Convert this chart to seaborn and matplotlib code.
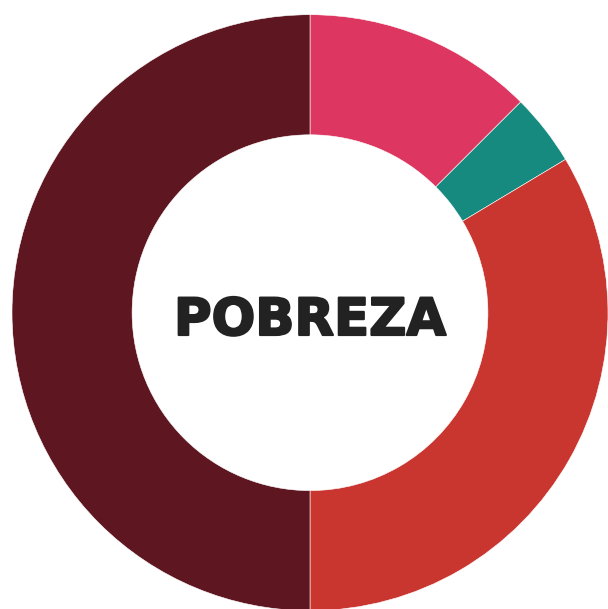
import matplotlib
matplotlib.use("Agg")
import matplotlib.pyplot as plt
import matplotlib.patheffects as pe
import seaborn as sns

labels = ["Pobreza extrema", "Vulnerable", "Pobreza moderada", "No pobre"]
values = [12.5, 3.9, 33.6, 50.0]
colors = ["#DC3661", "#178A80", "#C9352F", "#5E1620"]
center_text = "POBREZA"

sns.set_style("white")
plt.rcParams["font.family"] = ["DejaVu Sans"]

fig = plt.figure(figsize=(6.08, 6.09), dpi=100)
ax = fig.add_axes([12 / 608, -1.7 / 609, 596 / 608, 596 / 609])
ax.pie(values, colors=sns.color_palette(colors), startangle=90, counterclock=False,
       radius=1, wedgeprops=dict(width=0.403, edgecolor="white", linewidth=0.4))
ax.text(0, -0.028, center_text, ha="center", va="center", fontsize=37,
        fontweight="bold", color="#222222",
        path_effects=[pe.withStroke(linewidth=1.5, foreground="#222222")])
ax.set_xlim(-1, 1)
ax.set_ylim(-1, 1)
ax.set_aspect("equal")
ax.axis("off")

fig.savefig("out.png", dpi=100)
